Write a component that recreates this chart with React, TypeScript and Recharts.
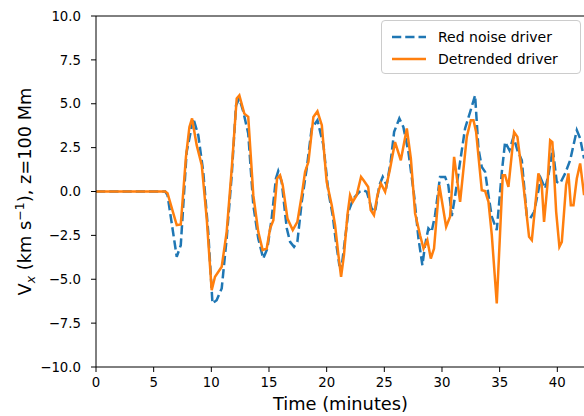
import React from "react"
import { LineChart, Line, XAxis, YAxis, ReferenceLine, Label } from "recharts"

// Red noise driver (dashed blue)
const redTime = [0, 6.0, 6.2, 7.0, 7.35, 7.86, 8.44, 8.87, 9.3, 9.73, 10.1, 10.46, 10.9, 11.33, 11.77, 12.14, 12.43, 12.78, 13.2, 13.64, 14.07, 14.5, 14.86, 15.23, 15.6, 15.8, 16.1, 16.54, 16.83, 17.17, 17.46, 17.84, 18.27, 18.7, 19.2, 19.72, 20.15, 20.52, 20.78, 21.1, 21.3, 21.6, 21.88, 22.32, 22.84, 23.2, 23.48, 23.9, 24.2, 24.57, 24.86, 25.2, 25.55, 25.85, 26.3, 26.65, 27.09, 27.58, 27.96, 28.3, 28.53, 28.82, 29.1, 29.4, 29.83, 30.27, 30.55, 30.85, 31.15, 31.57, 32.0, 32.44, 32.87, 33.16, 33.45, 33.74, 34.03, 34.32, 34.75, 35.19, 35.47, 35.85, 36.2, 36.54, 36.92, 37.35, 37.64, 37.99, 38.57, 38.94, 39.23, 39.6, 39.95, 40.24, 40.68, 41.11, 41.69, 41.98, 42.32]
const redValue = [0, 0, -0.2, -3.72, -3.06, 2.25, 4.16, 3.2, 1.12, -2.3, -6.38, -6.19, -5.52, -2.68, 0.93, 4.91, 5.3, 4.53, 3.3, -0.78, -2.68, -3.82, -3.25, -1.54, 0.74, 1.16, 0.55, -2.1, -2.87, -3.15, -2.87, -0.59, 1.31, 3.59, 4.06, 2.64, -0.02, -1.35, -2.75, -4.2, -4.29, -2.68, -1.16, -0.4, -0.02, 0.07, -0.02, -0.97, -1.16, 0.36, 0.83, 0.36, 1.69, 3.4, 4.16, 3.68, 2.25, -0.21, -2.68, -4.2, -3.06, -2.1, -2.3, -1.35, 0.83, 0.83, 0.36, -1.4, -0.2, 1.69, 3.59, 4.53, 5.48, 2.45, 1.4, 1.12, -0.21, -1.44, -2.2, 1.12, 2.82, 2.35, 3.11, 2.35, 1.78, -1.35, -1.54, -1.16, 0.74, 0.17, 0.93, 2.45, 0.55, 0.46, 1.03, 1.78, 3.49, 3.02, 1.88]

// Detrended driver (solid orange)
const detTime = [0, 6.0, 6.2, 7.0, 7.35, 7.8, 8.1, 8.33, 8.73, 9.17, 9.6, 10.03, 10.32, 10.9, 11.33, 11.77, 12.2, 12.43, 12.86, 13.2, 13.64, 14.07, 14.45, 14.8, 15.1, 15.38, 15.7, 15.96, 16.19, 16.6, 17.06, 17.46, 17.84, 18.13, 18.42, 18.85, 19.2, 19.58, 20.0, 20.44, 20.73, 21.02, 21.25, 21.5, 21.8, 22.03, 22.26, 22.6, 22.98, 23.2, 23.6, 23.82, 24.1, 24.4, 24.7, 25.07, 25.5, 25.93, 26.43, 26.95, 27.3, 27.67, 28.1, 28.4, 28.73, 29.03, 29.31, 29.77, 30.36, 30.7, 31.05, 31.57, 32.15, 32.5, 32.73, 32.96, 33.45, 33.74, 34.03, 34.32, 34.75, 35.27, 35.47, 35.76, 36.25, 36.54, 37.06, 37.55, 37.79, 38.36, 38.65, 38.85, 39.14, 39.38, 39.57, 39.9, 40.18, 40.39, 40.76, 40.96, 41.17, 41.4, 41.69, 41.98, 42.32]
const detValue = [0, 0, -0.1, -1.92, -1.88, 1.97, 3.68, 4.16, 2.64, 1.5, -1.54, -5.62, -4.86, -4.29, -2.3, 1.31, 5.3, 5.48, 4.44, 4.25, -0.21, -2.3, -3.34, -3.25, -2.1, -1.63, 0.74, 0.93, 0.36, -1.54, -2.2, -1.73, -0.21, 1.12, 1.69, 4.25, 4.57, 3.78, 0.55, -0.78, -1.92, -3.63, -4.86, -3.63, -1.35, -0.21, -0.59, -0.21, 0.83, 0.64, 0.26, -1.06, -1.35, -0.21, 0.46, -0.02, 1.31, 2.82, 1.78, 3.59, 1.88, -1.25, -2.49, -3.25, -2.77, -3.82, -3.25, 0.36, -2.01, -1.44, 1.97, -0.59, 3.11, 4.06, 4.06, 3.39, 0.07, 0.02, -0.59, -2.49, -6.38, 0.93, 0.93, 0.26, 3.39, 3.11, 0.36, -2.58, -2.77, 1.03, 0.36, -1.73, 0.36, 2.92, 2.82, -1.16, -3.15, -2.87, 0.36, 1.03, -0.78, -0.78, 0.74, 1.6, -0.21]

const xTicks = [0, 5, 10, 15, 20, 25, 30, 35, 40]
const yTicks = [-10, -7.5, -5, -2.5, 0, 2.5, 5, 7.5, 10]

const redData = redTime.map((t, i) => ({ t, v: redValue[i] }))
const detData = detTime.map((t, i) => ({ t, v: detValue[i] }))

const FONT = "DejaVu Sans"
const BLUE = "#1f77b4"
const ORANGE = "#ff7f0e"

function XLabel(props: any) {
  const vb = props.viewBox
  return (
    <text x={vb.x + vb.width / 2} y={vb.y + 43} textAnchor="middle" fontSize={17.8} fill="#000" fontFamily={FONT}>
      Time (minutes)
    </text>
  )
}

function YLabel(props: any) {
  const vb = props.viewBox
  const cx = 31
  const cy = vb.y + vb.height / 2
  return (
    <text x={cx} y={cy} transform={`rotate(-90 ${cx} ${cy})`} textAnchor="middle" fontSize={17.8} fill="#000" fontFamily={FONT}>
      V
      <tspan dy={4} fontSize={12.5} fontStyle="italic">x</tspan>
      <tspan dy={-4}> (km s</tspan>
      <tspan dy={-7} fontSize={12.5}>−1</tspan>
      <tspan dy={7}>), z=100 Mm</tspan>
    </text>
  )
}

function LegendBox() {
  const rows = [
    { name: "Red noise driver", color: BLUE, dash: "9.25 4" },
    { name: "Detrended driver", color: ORANGE, dash: undefined },
  ]
  return (
    <div style={{ position: "absolute", left: 381, top: 20, width: 200, height: 54, boxSizing: "border-box", border: "1px solid #cccccc", borderRadius: 4, background: "rgba(255,255,255,0.8)", fontFamily: FONT, fontSize: 14 }}>
      {rows.map((r, i) => (
        <div key={r.name} style={{ position: "absolute", left: 9, top: 6 + i * 22, height: 20, display: "flex", alignItems: "center" }}>
          <svg width={36} height={20} style={{ display: "block" }}>
            <line x1={1} y1={10} x2={35} y2={10} stroke={r.color} strokeWidth={2.5} strokeDasharray={r.dash} />
          </svg>
          <span style={{ marginLeft: 11, color: "#000", whiteSpace: "nowrap" }}>{r.name}</span>
        </div>
      ))}
    </div>
  )
}

export default function App() {
  return (
    <div style={{ position: "absolute", left: 0, top: 0, width: 584, height: 416, overflow: "hidden", background: "#fff" }}>
      <LineChart width={586} height={416} margin={{ top: 16, right: 1, bottom: 0, left: 0 }} style={{ fontFamily: FONT }}>
        <XAxis
          type="number"
          dataKey="t"
          domain={[0, 42.4]}
          ticks={xTicks}
          interval={0}
          allowDataOverflow
          height={49}
          tickSize={5}
          tickMargin={6}
          stroke="#000"
          tick={{ fill: "#000", fontSize: 13.3, fontFamily: FONT }}
        >
          <Label content={<XLabel />} />
        </XAxis>
        <YAxis
          type="number"
          domain={[-10, 10]}
          ticks={yTicks}
          interval={0}
          width={96}
          tickSize={5}
          tickMargin={10}
          stroke="#000"
          tick={{ fill: "#000", fontSize: 13.3, fontFamily: FONT }}
          tickFormatter={(v: number) => v.toFixed(1).replace("-", "\u2212")}
        >
          <Label content={<YLabel />} />
        </YAxis>
        <ReferenceLine y={10} stroke="#000" strokeWidth={1} />
        <Line data={redData} dataKey="v" type="linear" stroke={BLUE} strokeWidth={2.5} strokeDasharray="9.25 4" dot={false} activeDot={false} isAnimationActive={false} />
        <Line data={detData} dataKey="v" type="linear" stroke={ORANGE} strokeWidth={2.5} dot={false} activeDot={false} isAnimationActive={false} />
      </LineChart>
      <LegendBox />
    </div>
  )
}
